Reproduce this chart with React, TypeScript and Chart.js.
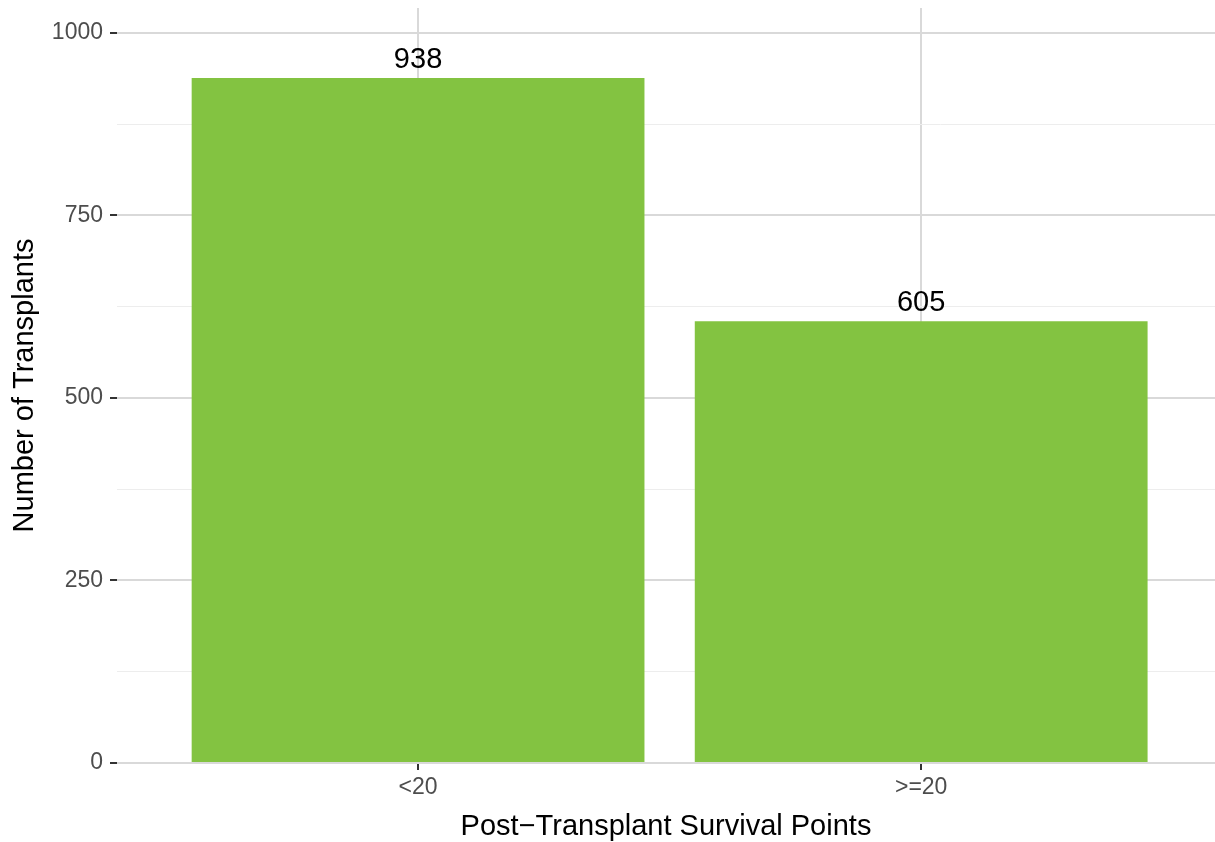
import React, { useEffect, useRef } from "react";
import { Chart, registerables } from "chart.js";

Chart.register(...registerables);

const categories = ["<20", ">=20"];
const transplants = [938, 605];
const yMajorTicks = [0, 250, 500, 750, 1000];
const yMinorTicks = [125, 375, 625, 875];
const xTitle = "Post\u2212Transplant Survival Points";
const yTitle = "Number of Transplants";

const FONT = "'Liberation Sans', Arial, Helvetica, sans-serif";
const MAJOR = "#d9d9d9";
const MINOR = "#ededed";
const TICK = "#333333";
const BAR = "#83c341";

const labelPlugin = {
  id: "barLabels",
  afterDatasetsDraw(chart: any) {
    const { ctx } = chart;
    const meta = chart.getDatasetMeta(0);
    ctx.save();
    ctx.font = `29px ${FONT}`;
    ctx.fillStyle = "#000000";
    ctx.textAlign = "center";
    ctx.textBaseline = "alphabetic";
    meta.data.forEach((bar: any, i: number) => {
      ctx.fillText(String(transplants[i]), bar.x, bar.y - 10);
    });
    ctx.restore();
  },
};

export default function App() {
  const ref = useRef<HTMLCanvasElement | null>(null);
  useEffect(() => {
    if (!ref.current) return;
    const allY = [...yMajorTicks, ...yMinorTicks].sort((a, b) => a - b);
    const chart = new Chart(ref.current, {
      type: "bar",
      data: {
        datasets: [
          {
            data: categories.map((c, i) => ({ x: i + 1, y: transplants[i] })),
            backgroundColor: BAR,
            borderWidth: 0,
            categoryPercentage: 1,
            barPercentage: 0.9,
          },
        ],
      },
      options: {
        responsive: false,
        animation: false,
        devicePixelRatio: 1,
        layout: { padding: { top: 8, right: 0, left: 0, bottom: 0 } },
        plugins: {
          legend: { display: false },
          tooltip: { enabled: false },
        },
        scales: {
          x: {
            type: "linear",
            position: "bottom",
            min: 0.4016,
            max: 2.584,
            offset: false,
            border: { display: false },
            grid: {
              offset: false,
              color: MAJOR,
              lineWidth: 2,
              tickLength: 7,
              tickColor: TICK,
              tickWidth: 2,
            },
            afterBuildTicks: (scale: any) => {
              scale.ticks = categories.map((_, i) => ({ value: i + 1 }));
            },
            afterFit: (scale: any) => {
              scale.height = 79;
              scale.paddingLeft = 0;
              scale.paddingRight = 0;
              scale.paddingTop = 0;
              scale.paddingBottom = 0;
            },
            ticks: {
              autoSkip: false,
              maxRotation: 0,
              padding: 4,
              color: "#4d4d4d",
              font: { family: FONT, size: 23 },
              callback: (v: any) => categories[Number(v) - 1] ?? "",
            },
            title: {
              display: true,
              text: xTitle,
              color: "#000000",
              font: { family: FONT, size: 29, lineHeight: 1 },
              padding: { top: 0, bottom: 1 },
            },
          },
          y: {
            type: "linear",
            min: 0,
            max: 1034,
            border: { display: false },
            afterBuildTicks: (scale: any) => {
              scale.ticks = allY.map((v) => ({ value: v }));
            },
            afterFit: (scale: any) => {
              scale.width = 117;
              scale.paddingTop = 0;
              scale.paddingBottom = 0;
              scale.paddingLeft = 0;
              scale.paddingRight = 0;
            },
            grid: {
              color: (c: any) =>
                c.tick && yMajorTicks.includes(c.tick.value) ? MAJOR : MINOR,
              lineWidth: (c: any) =>
                c.tick && yMajorTicks.includes(c.tick.value) ? 2 : 1,
              tickLength: 7,
              tickColor: (c: any) =>
                c.tick && yMajorTicks.includes(c.tick.value) ? TICK : "rgba(0,0,0,0)",
              tickWidth: 2,
            },
            ticks: {
              autoSkip: false,
              padding: 7,
              color: "#4d4d4d",
              font: { family: FONT, size: 23 },
              callback: (v: any) => (yMajorTicks.includes(Number(v)) ? String(v) : ""),
            },
            title: {
              display: true,
              text: yTitle,
              color: "#000000",
              font: { family: FONT, size: 29, lineHeight: 1 },
              padding: { top: 10, bottom: 0 },
            },
          },
        },
      },
      plugins: [labelPlugin],
    } as any);
    return () => chart.destroy();
  }, []);
  return (
    <div style={{ position: "absolute", left: 0, top: 0, width: 1215, height: 842, background: "#ffffff" }}>
      <canvas ref={ref} width={1215} height={842} style={{ display: "block" }} />
    </div>
  );
}
